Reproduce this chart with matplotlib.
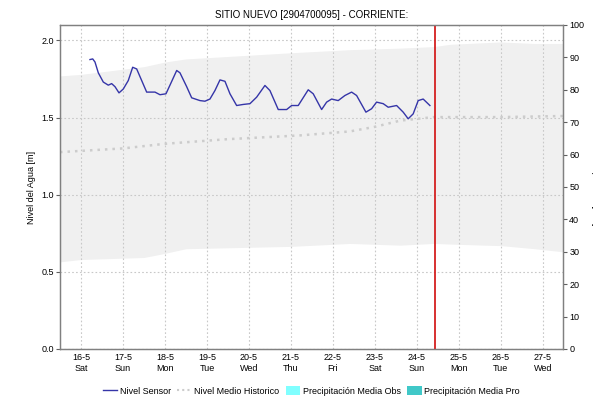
import matplotlib

matplotlib.use("Agg")

import matplotlib.pyplot as plt
from matplotlib.lines import Line2D
from matplotlib.patches import Patch

plt.rcParams["font.family"] = ["Liberation Sans", "DejaVu Sans"]

# days counted from 16-5 00:00
day_ticks = list(range(12))
day_labels = ["16-5\nSat", "17-5\nSun", "18-5\nMon", "19-5\nTue", "20-5\nWed", "21-5\nThu",
              "22-5\nFri", "23-5\nSat", "24-5\nSun", "25-5\nMon", "26-5\nTue", "27-5\nWed"]

sensor_days = [0.214, 0.279, 0.333, 0.412, 0.531, 0.650, 0.730, 0.810, 0.905, 1.007, 1.126,
               1.231, 1.326, 1.445, 1.564, 1.762, 1.881, 2.024, 2.119, 2.279, 2.357, 2.517,
               2.636, 2.833, 2.952, 3.071, 3.190, 3.310, 3.429, 3.548, 3.707, 3.864, 4.024,
               4.183, 4.381, 4.500, 4.698, 4.898, 5.017, 5.174, 5.412, 5.531, 5.731, 5.850,
               5.969, 6.126, 6.286, 6.445, 6.564, 6.786, 6.921, 7.040, 7.198, 7.317, 7.517,
               7.674, 7.793, 7.912, 8.031, 8.150, 8.310]
sensor_level = [1.876, 1.880, 1.860, 1.790, 1.730, 1.710, 1.720, 1.700, 1.660, 1.685, 1.740,
                1.826, 1.815, 1.740, 1.665, 1.665, 1.648, 1.654, 1.710, 1.805, 1.790, 1.700,
                1.628, 1.610, 1.606, 1.620, 1.675, 1.744, 1.735, 1.654, 1.578, 1.585, 1.590,
                1.632, 1.708, 1.675, 1.552, 1.552, 1.578, 1.578, 1.680, 1.654, 1.552, 1.600,
                1.620, 1.610, 1.643, 1.665, 1.643, 1.535, 1.557, 1.600, 1.590, 1.567, 1.578,
                1.535, 1.492, 1.524, 1.610, 1.620, 1.578]

band_days = [-0.5, 0.0, 1.5, 2.0, 2.5, 5.0, 6.4, 7.6, 8.4, 8.8, 9.6, 10.0, 10.4, 10.8, 11.48]
band_upper = [1.77, 1.78, 1.83, 1.86, 1.88, 1.92, 1.94, 1.95, 1.96, 1.975, 1.985, 1.99, 1.985,
              1.98, 1.98]
band_lower = [0.565, 0.58, 0.593, 0.62, 0.65, 0.665, 0.684, 0.673, 0.684, 0.68, 0.673, 0.67,
              0.66, 0.65, 0.63]

mean_days = [-0.5, 1.0, 2.0, 3.5, 5.2, 6.4, 7.0, 7.6, 8.4, 10.0, 11.48]
mean_level = [1.276, 1.30, 1.33, 1.36, 1.384, 1.41, 1.44, 1.48, 1.503, 1.503, 1.51]

now_day = 8.43

fig = plt.figure(figsize=(5.93, 4.01), dpi=100)
ax = fig.add_axes([0.1012, 0.1297, 0.8482, 0.808])
ax.set_axisbelow("line")

ax.fill_between(band_days, band_lower, band_upper, color="#f0f0f0", linewidth=0, zorder=1)
ax.plot(mean_days, mean_level, color="#cccccc", linestyle=(0, (1, 2)), linewidth=1.8, zorder=2)
ax.plot(sensor_days, sensor_level, color="#3535a8", linewidth=1.0, zorder=3)
ax.axvline(now_day, color="#d42020", linewidth=1.3, zorder=4)

ax.set_xlim(-0.5, 11.48)
ax.set_ylim(0, 2.1)
ax.set_xticks(day_ticks)
ax.set_xticklabels(day_labels, fontsize=6.5)
ax.set_yticks([0.0, 0.5, 1.0, 1.5, 2.0])
ax.set_yticklabels(["0.0", "0.5", "1.0", "1.5", "2.0"], fontsize=6.5)
ax.tick_params(axis="y", length=3, width=0.8, color="#606060", pad=1.5)
ax.tick_params(axis="x", length=0, pad=3)
ax.grid(True, color="#c8c8c8", linestyle=(0, (1.5, 2)), linewidth=0.8)
for side in ax.spines.values():
    side.set_color("#808080")
    side.set_linewidth(0.9)
ax.set_ylabel("Nivel del Agua [m]", fontsize=6.5, labelpad=4)

right = ax.twinx()
right.set_ylim(0, 100)
right.set_yticks(range(0, 101, 10))
right.set_yticklabels([str(v) for v in range(0, 101, 10)], fontsize=6.5)
right.tick_params(axis="y", length=3, width=0.8, color="#606060", pad=1.5)
for side in right.spines.values():
    side.set_color("#808080")
    side.set_linewidth(0.9)

fig.text(0.9966, 0.53, "Precipitación [mm]", fontsize=6.5, rotation=270,
         ha="left", va="center")

ax.set_title("SITIO NUEVO [2904700095] - CORRIENTE:", fontsize=7, pad=5)

handles = [
    Line2D([], [], color="#3535a8", linewidth=1.0),
    Line2D([], [], color="#cccccc", linestyle=(0, (1, 1.5)), linewidth=1.5),
    Patch(facecolor="#80ffff", edgecolor="none"),
    Patch(facecolor="#40c8c8", edgecolor="none"),
]
names = ["Nivel Sensor", "Nivel Medio Historico", "Precipitación Media Obs",
         "Precipitación Media Pro"]
fig.legend(handles, names, loc="center", bbox_to_anchor=(0.525, 0.025), ncol=4,
           frameon=False, fontsize=6.5, handlelength=1.6, handleheight=1.2,
           handletextpad=0.3, columnspacing=0.7)

fig.savefig("out.png", dpi=100)
